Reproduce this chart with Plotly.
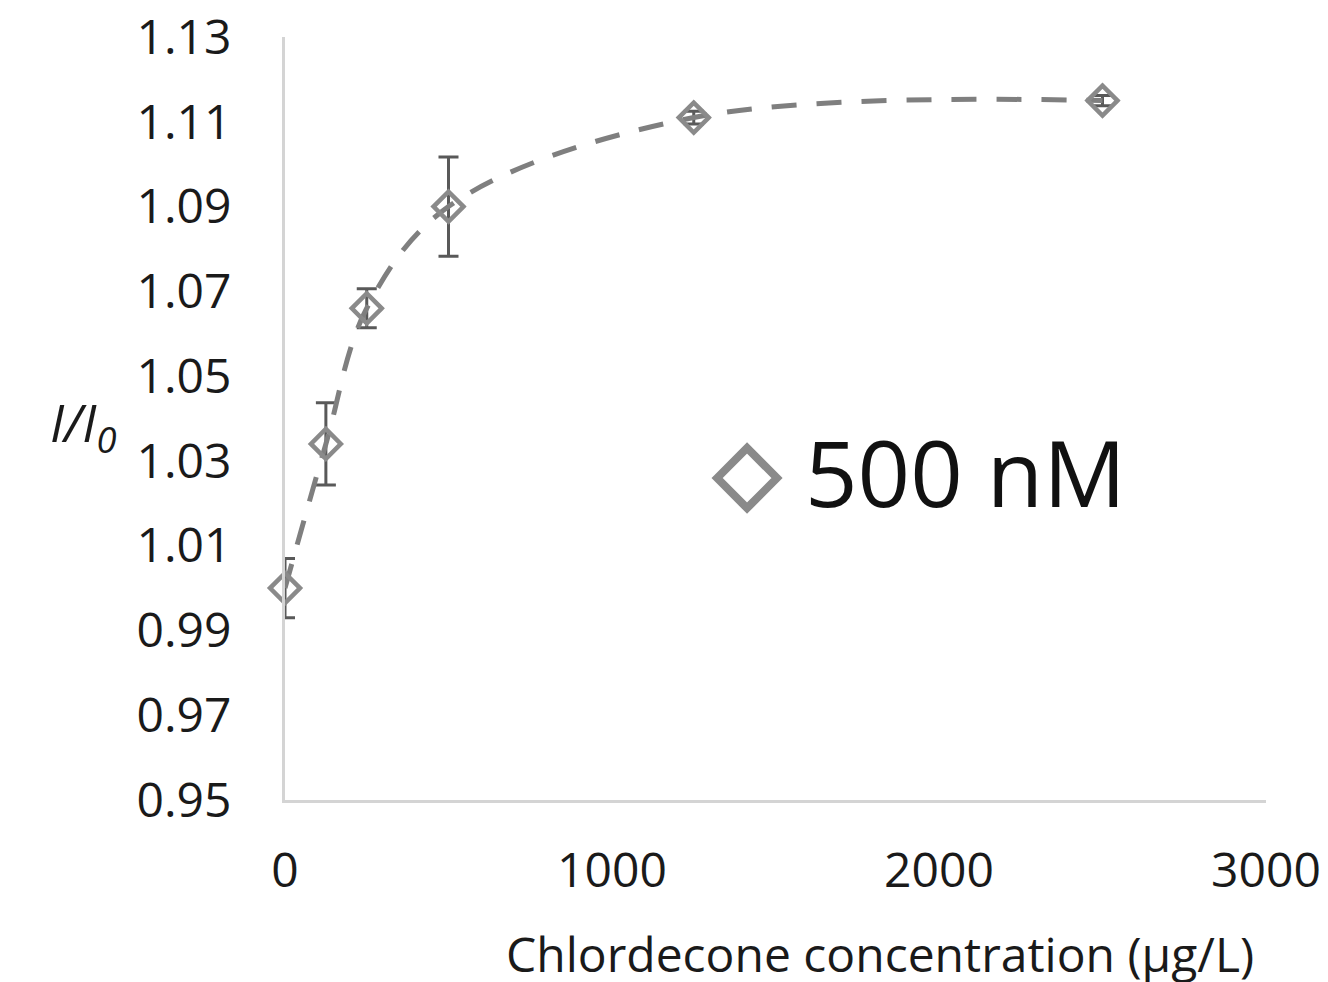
import plotly.graph_objects as go

# Data
concentration = [0, 125, 250, 500, 1250, 2500]          # µg/L
ratio = [1.000, 1.034, 1.066, 1.090, 1.111, 1.115]       # I/I0
ratio_err = [0.007, 0.0097, 0.0046, 0.0117, 0.0015, 0.0012]
x_ticks = [0, 1000, 2000, 3000]
y_ticks = [0.95, 0.97, 0.99, 1.01, 1.03, 1.05, 1.07, 1.09, 1.11, 1.13]
series_name = "500 nM"

FONT = "Open Sans"
GRAY = "#8a8a8a"

fig = go.Figure()
fig.add_trace(go.Scatter(
    x=concentration, y=ratio,
    mode="lines+markers",
    name=series_name,
    cliponaxis=False,
    line=dict(color="#7f7f7f", width=5, dash="25px,20px", shape="spline", smoothing=1.0),
    marker=dict(symbol="diamond-open", size=23, color=GRAY, line=dict(width=4.5, color=GRAY)),
    error_y=dict(type="data", array=ratio_err, visible=True, color="#595959", thickness=3, width=10),
    showlegend=False,
))

fig.update_layout(
    width=1328, height=982,
    margin=dict(l=277, r=70, t=29, b=190, autoexpand=False),
    paper_bgcolor="white", plot_bgcolor="white",
    font=dict(family=FONT, color="#1a1a1a", size=48),
    xaxis=dict(range=[0, 3000], tickvals=x_ticks, ticktext=[str(v) for v in x_ticks],
               showgrid=False, zeroline=False, showline=True, linecolor="#d4d4d4", linewidth=3,
               ticks="", ticklabelstandoff=26, automargin=False, ticklabeloverflow="allow",
               tickfont=dict(size=48, family=FONT)),
    yaxis=dict(range=[0.95, 1.13], tickvals=y_ticks, ticktext=[f"{v:.2f}" for v in y_ticks],
               showgrid=False, zeroline=False, showline=True, linecolor="#d4d4d4", linewidth=3,
               ticks="", ticklabelstandoff=41, automargin=False, ticklabeloverflow="allow",
               tickfont=dict(size=48, family=FONT)),
    showlegend=False,
)

# Axis titles
fig.add_annotation(text="<i>I/I<sub>0</sub></i>", xref="paper", yref="paper",
                   x=-0.170, y=0.491, xanchor="right", yanchor="middle", showarrow=False,
                   font=dict(size=52, family=FONT, color="#1a1a1a"))
fig.add_annotation(text="Chlordecone concentration (µg/L)", xref="paper", yref="paper",
                   x=0.6065, y=-0.201, yanchor="middle", showarrow=False,
                   font=dict(size=48, family=FONT, color="#1a1a1a"))

# Legend (symbol + label)
cx, cy, dx, dy = 0.471, 0.422, 0.0305, 0.0395
fig.add_shape(type="path", xref="paper", yref="paper",
              path=f"M {cx-dx} {cy} L {cx} {cy+dy} L {cx+dx} {cy} L {cx} {cy-dy} Z",
              line=dict(color=GRAY, width=8))
fig.add_annotation(text=series_name, xref="paper", yref="paper", x=0.528, y=0.43,
                   xanchor="left", yanchor="middle", showarrow=False,
                   font=dict(size=92, family=FONT, color="#111111"))

fig.write_html("out.html")
